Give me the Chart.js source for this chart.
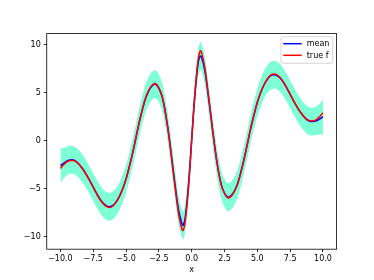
<!DOCTYPE html>
<html><head><meta charset="utf-8">
<script src="https://cdn.jsdelivr.net/npm/chart.js@4"></script>
<style>html,body{margin:0;padding:0;background:#fff}canvas{display:block}</style>
</head><body>
<canvas id="c" width="374" height="280"></canvas>
<script>
const xs = [-10,-9.75,-9.5,-9.25,-9,-8.75,-8.5,-8.25,-8,-7.75,-7.5,-7.25,-7,-6.75,-6.5,-6.25,-6,-5.75,-5.5,-5.25,-5,-4.75,-4.5,-4.25,-4,-3.75,-3.5,-3.25,-3,-2.75,-2.5,-2.25,-2,-1.75,-1.5,-1.25,-1,-0.75,-0.65,-0.5,-0.25,
  0,
  0.25,0.5,0.65,0.75,1,1.25,1.5,1.75,2,2.25,2.5,2.75,3,3.25,3.5,3.75,4,4.25,4.5,4.75,5,5.25,5.5,5.75,6,6.25,6.5,6.75,7,7.25,7.5,7.75,8,8.25,8.5,8.75,9,9.25,9.5,9.75,10];
const trueF = [-2.9,-2.5,-2.2,-2.07,-2.07,-2.25,-2.6,-3.05,-3.6,-4.2,-4.85,-5.5,-6.1,-6.55,-6.85,-6.95,-6.8,-6.4,-5.8,-5.0,-4.0,-2.7,-1.3,0.3,1.9,3.3,4.5,5.3,5.8,5.95,5.5,4.6,2.9,0.6,-2.2,-5.0,-7.6,-9.2,-9.35,-8.5,-5.0,
  0,
  5.0,8.5,9.35,9.2,7.6,5.0,2.2,-0.6,-2.9,-4.6,-5.5,-5.95,-5.8,-5.3,-4.5,-3.3,-1.9,-0.3,1.3,2.7,4.0,5.0,5.8,6.4,6.8,6.95,6.85,6.55,6.1,5.5,4.85,4.2,3.6,3.05,2.6,2.25,2.07,2.07,2.2,2.5,2.9];
const meanY = [-2.6,-2.35,-2.1,-2.0,-2.02,-2.22,-2.58,-3.03,-3.58,-4.18,-4.83,-5.47,-6.05,-6.5,-6.78,-6.87,-6.74,-6.36,-5.77,-4.98,-3.98,-2.7,-1.3,0.28,1.86,3.26,4.45,5.24,5.72,5.88,5.45,4.58,2.92,0.7,-2.0,-4.75,-7.2,-8.6,-8.82,-8.1,-4.7,
  0.1,
  4.85,8.15,8.8,8.7,7.3,4.85,2.15,-0.55,-2.85,-4.55,-5.45,-5.88,-5.72,-5.24,-4.45,-3.26,-1.86,-0.28,1.3,2.7,3.98,4.98,5.77,6.36,6.74,6.87,6.78,6.5,6.05,5.47,4.83,4.18,3.58,3.03,2.58,2.22,2.02,2.0,2.08,2.25,2.5];
const bandHalf = [1.85,1.6,1.5,1.45,1.45,1.45,1.45,1.45,1.45,1.45,1.45,1.45,1.45,1.45,1.45,1.45,1.45,1.45,1.45,1.45,1.45,1.45,1.45,1.45,1.45,1.45,1.45,1.45,1.45,1.45,1.45,1.45,1.45,1.45,1.45,1.45,1.45,1.45,1.45,1.45,1.45,
  1.45,
  1.45,1.45,1.45,1.45,1.45,1.45,1.45,1.45,1.45,1.45,1.45,1.45,1.45,1.45,1.45,1.45,1.45,1.45,1.45,1.45,1.45,1.45,1.45,1.45,1.45,1.45,1.45,1.45,1.45,1.45,1.45,1.45,1.45,1.45,1.45,1.45,1.45,1.45,1.5,1.6,1.85];
const xTicks = [-10,-7.5,-5,-2.5,0,2.5,5,7.5,10];
const xTickLabels = ['\u221210.0','\u22127.5','\u22125.0','\u22122.5','0.0','2.5','5.0','7.5','10.0'];
const yTicks = [-10,-5,0,5,10];
const yTickLabels = ['\u221210','\u22125','0','5','10'];
const seriesNames = ['mean','true f'];
const xLabel = 'x';

const W = 374, H = 280;
const L = 46.75, R = 336.6, T = 33.6, B = 249.2;
const FONT = {family: 'DejaVu Sans', size: 8};

const pts = ys => xs.map((x, i) => ({x: x, y: ys[i]}));
const upper = meanY.map((m, i) => m + bandHalf[i]);
const lower = meanY.map((m, i) => m - bandHalf[i]);

const framePlugin = {
  id: 'frame',
  afterDatasetsDraw(chart) {
    const {ctx, chartArea: a} = chart;
    ctx.save();
    ctx.strokeStyle = '#000';
    ctx.lineWidth = 0.8;
    ctx.strokeRect(a.left, a.top, a.right - a.left, a.bottom - a.top);
    ctx.restore();
  }
};

const legendPlugin = {
  id: 'mplLegend',
  afterDraw(chart) {
    const {ctx, chartArea: a} = chart;
    const items = seriesNames.map(n => chart.data.datasets.find(d => d.label === n));
    const bw = 51.7, bh = 26.6;
    const bx = a.right - 3.9 - bw, by = a.top + 3.1;
    ctx.save();
    ctx.beginPath();
    if (ctx.roundRect) ctx.roundRect(bx, by, bw, bh, 2); else ctx.rect(bx, by, bw, bh);
    ctx.fillStyle = 'rgba(255,255,255,0.8)';
    ctx.fill();
    ctx.strokeStyle = '#cccccc';
    ctx.lineWidth = 0.8;
    ctx.stroke();
    ctx.font = '8px "DejaVu Sans"';
    ctx.textBaseline = 'middle';
    ctx.textAlign = 'left';
    items.forEach((d, i) => {
      const yy = by + 7 + i * 11.6;
      ctx.beginPath();
      ctx.moveTo(bx + 2.3, yy);
      ctx.lineTo(bx + 20.7, yy);
      ctx.strokeStyle = d.borderColor;
      ctx.lineWidth = 1.5;
      ctx.stroke();
      ctx.fillStyle = '#000';
      ctx.fillText(d.label, bx + 25.7, yy + 0.5);
    });
    ctx.restore();
  }
};

new Chart(document.getElementById('c'), {
  type: 'line',
  data: {
    datasets: [
      {label: 'true f', data: pts(trueF), borderColor: '#ff0000', borderWidth: 1.5, pointRadius: 0, tension: 0.4, fill: false},
      {label: 'mean', data: pts(meanY), borderColor: '#0000ff', borderWidth: 1.5, pointRadius: 0, tension: 0.4, fill: false},
      {label: 'upper', data: pts(upper), borderWidth: 0, borderColor: 'rgba(0,0,0,0)', backgroundColor: '#7fffd4', pointRadius: 0, tension: 0.4, fill: '+1'},
      {label: 'lower', data: pts(lower), borderWidth: 0, borderColor: 'rgba(0,0,0,0)', pointRadius: 0, tension: 0.4, fill: false}
    ]
  },
  options: {
    responsive: false,
    animation: false,
    devicePixelRatio: 1,
    layout: {padding: {left: 0, top: T, right: W - R, bottom: 0}},
    plugins: {legend: {display: false}, tooltip: {enabled: false}, filler: {drawTime: 'beforeDatasetsDraw'}},
    scales: {
      x: {
        type: 'linear', min: -11.04, max: 11.04,
        afterBuildTicks: s => { s.ticks = xTicks.map(v => ({value: v})); },
        afterFit: s => { s.height = H - B; },
        ticks: {autoSkip: false, maxRotation: 0, minRotation: 0, padding: 2, color: '#000', font: FONT,
          callback: (v, i) => xTickLabels[i]},
        grid: {drawOnChartArea: false, drawTicks: true, tickLength: 3, color: '#000', lineWidth: 0.8},
        border: {display: false},
        title: {display: true, text: xLabel, color: '#000', font: FONT, padding: {top: 0, bottom: 5.7}}
      },
      y: {
        type: 'linear', min: -11.3, max: 11.15,
        afterBuildTicks: s => { s.ticks = yTicks.map(v => ({value: v})); },
        afterFit: s => { s.width = L; },
        ticks: {autoSkip: false, padding: 3, color: '#000', font: FONT,
          callback: (v, i) => yTickLabels[i]},
        grid: {drawOnChartArea: false, drawTicks: true, tickLength: 3, color: '#000', lineWidth: 0.8},
        border: {display: false}
      }
    }
  },
  plugins: [framePlugin, legendPlugin]
});
</script>
</body></html>
